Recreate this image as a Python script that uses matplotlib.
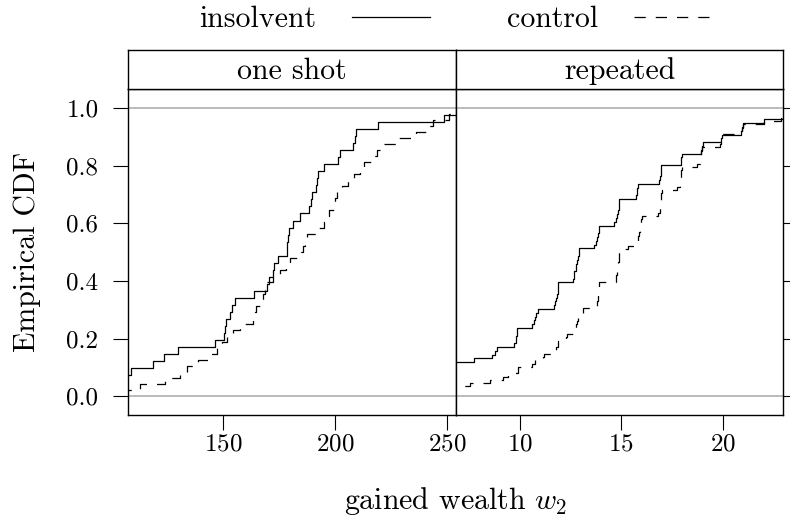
import numpy as np
import matplotlib.pyplot as plt
from matplotlib.lines import Line2D
from matplotlib.ticker import FormatStrFormatter

plt.rcParams['font.family'] = ['cmr10', 'DejaVu Serif']
plt.rcParams['mathtext.fontset'] = 'cm'
plt.rcParams['axes.formatter.use_mathtext'] = True

panels = ['one shot', 'repeated']
groups = ['insolvent', 'control']

# gained wealth samples
oneshot_insolvent = [95, 102, 106, 108.9, 118.9, 123.8, 129.8, 146.7, 150.3, 150.9,
                     151.6, 153.3, 154.2, 155.4, 163.7, 169.5, 170.5, 172.3, 172.7, 174.5,
                     178.4, 178.8, 179.2, 179.5, 181.4, 184.4, 188.5, 189.2, 189.6, 191.5,
                     192.1, 192.4, 195.2, 201.5, 202.2, 208.2, 209.0, 209.4, 219.1, 248.8,
                     262]
oneshot_control = [104, 113, 124, 131, 134, 139, 144.6, 147.5, 149.5, 152,
                   154.5, 157.5, 163.5, 164.2, 165, 166.5, 168, 169, 169.8, 172.5,
                   175.5, 178, 180, 184.8, 185.6, 186.5, 187.5, 192, 195, 196.3,
                   197.5, 199.5, 199.9, 201, 203.2, 206, 208.5, 211, 213, 217.5,
                   219, 221.2, 228.5, 236, 241, 244, 251, 265]
repeated_insolvent = [5.0, 5.5, 6.0, 6.0, 6.2, 6.4, 6.5, 6.6, 6.7,
                      7.73, 8.6, 8.75, 8.85, 9.72, 9.8, 9.82, 9.84, 9.85,
                      10.61, 10.7, 10.74, 10.8, 10.87,
                      11.69, 11.72, 11.76, 11.85, 11.87, 11.89, 11.9,
                      12.62, 12.65, 12.68, 12.75, 12.78, 12.8, 12.86, 12.89, 12.91,
                      13.67, 13.75, 13.8, 13.83, 13.88, 13.91,
                      14.65, 14.75, 14.8, 14.85, 14.87, 14.89, 14.9,
                      15.72, 15.76, 15.79, 15.82,
                      16.85, 16.9, 16.94, 16.96, 16.98,
                      17.92, 17.96, 17.98,
                      18.95, 18.98, 19.01,
                      19.9, 19.95,
                      20.9, 20.95, 21.0,
                      22.04,
                      23.5, 24.0, 25.0]
repeated_control = [4.5, 5.5, 6.3, 7.53, 8.5, 9.16, 9.4, 9.88, 9.9,
                    10.6, 10.75, 11.15, 11.18, 11.72, 11.76, 11.86, 11.89,
                    12.27, 12.3, 12.74, 12.76, 12.78, 12.8, 12.85, 12.88,
                    13.1, 13.12, 13.78, 13.8, 13.83, 13.85, 13.86, 13.88, 13.89, 13.9,
                    14.72, 14.75, 14.77, 14.82, 14.84, 14.85, 14.87, 14.88, 14.89, 14.9,
                    15.34, 15.8, 15.82, 15.84, 15.86, 15.9, 15.93, 15.95, 15.98, 16.0,
                    16.82, 16.9, 16.92, 16.94, 16.95, 16.96, 16.98, 16.99,
                    17.73, 17.9, 17.92, 17.94, 17.95, 17.96, 17.98,
                    18.72, 18.88, 18.9, 18.92, 18.94, 18.96,
                    19.87, 19.9, 19.93, 19.97,
                    20.92, 20.96, 21.0,
                    22.02, 22.9,
                    23.5, 24.5, 25.5]

data = [[oneshot_insolvent, oneshot_control], [repeated_insolvent, repeated_control]]
xlims = [(107.5, 253.9), (6.83, 22.99)]
xticks = [[150, 200, 250], [10, 15, 20]]
yticks = [0.0, 0.2, 0.4, 0.6, 0.8, 1.0]

styles = [dict(color='black', lw=0.9, ls='-'),
          dict(color='black', lw=0.9, ls=(0, (9, 8)))]

fig = plt.figure(figsize=(7.9, 5.27), dpi=100)
L, M, R = 0.1616, 0.5768, 0.9915
B, T, S = 0.2120, 0.8311, 0.9051
fs = 21.5
tfs = 18

for i, name in enumerate(panels):
    x0 = [L, M][i]
    ax = fig.add_axes([x0, B, [M - L, R - M][i], T - B])
    for vals, st in zip(data[i], styles):
        xs = np.sort(vals)
        ys = np.arange(1, len(xs) + 1) / len(xs)
        ax.step(xs, ys, where='post', **st)
    ax.axhline(0, color='#a8a8a8', lw=1.1, zorder=0)
    ax.axhline(1, color='#a8a8a8', lw=1.1, zorder=0)
    ax.set_xlim(*xlims[i])
    ax.set_ylim(-0.066, 1.066)
    ax.set_xticks(xticks[i])
    ax.set_yticks(yticks)
    ax.yaxis.set_major_formatter(FormatStrFormatter('%.1f'))
    ax.tick_params(direction='out', length=11, width=0.8, labelsize=tfs, pad=2)
    if i == 0:
        ax.tick_params(axis='y', left=True, labelleft=True, right=False, pad=10)
        ax.set_ylabel('Empirical CDF', fontsize=fs, labelpad=18)
    else:
        ax.tick_params(axis='y', left=False, labelleft=False, right=True, labelright=False)
    for sp in ax.spines.values():
        sp.set_linewidth(1.0)

    sax = fig.add_axes([x0, T, [M - L, R - M][i], S - T])
    sax.set_xticks([])
    sax.set_yticks([])
    for sp in sax.spines.values():
        sp.set_linewidth(1.0)
    sax.text(0.5, 0.45, name, ha='center', va='center', fontsize=fs,
             transform=sax.transAxes)

handles = [Line2D([], [], **st) for st in styles]
fig.legend(handles, groups, loc='upper center', bbox_to_anchor=(M, 1.04), ncol=2,
           frameon=False, markerfirst=False, handlelength=2.6, handletextpad=1.2,
           columnspacing=2.6, fontsize=fs)

fig.text(M, 0.05, r'gained wealth $w_2$', ha='center', va='center', fontsize=fs)

fig.savefig('out.png', dpi=100)
